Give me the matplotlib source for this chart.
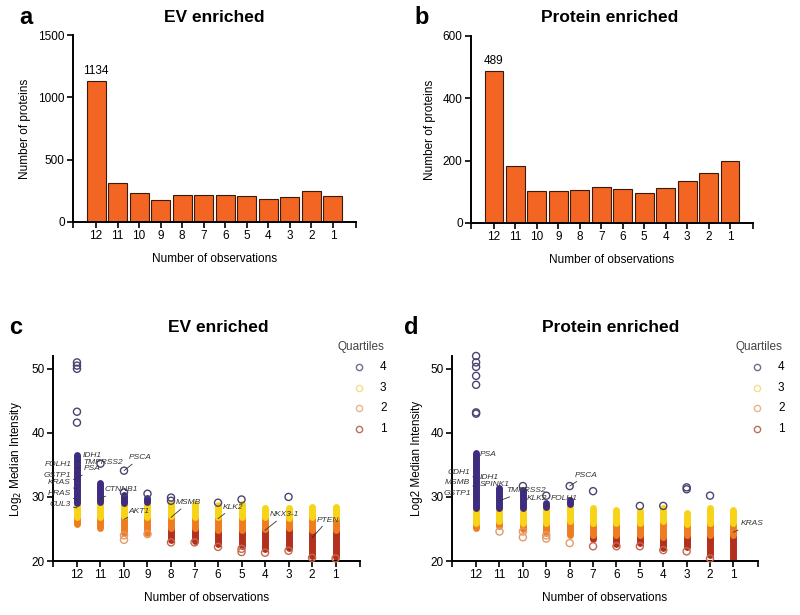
import numpy as np
import matplotlib.pyplot as plt
from matplotlib.lines import Line2D

plt.rcParams['font.family'] = ['Liberation Sans', 'DejaVu Sans']

# ---------------------------------------------------------------------------
# data
# ---------------------------------------------------------------------------
observations = [12, 11, 10, 9, 8, 7, 6, 5, 4, 3, 2, 1]

ev_counts = [1134, 313, 230, 176, 214, 214, 214, 208, 187, 198, 251, 208]
prot_counts = [489, 182, 102, 103, 105, 117, 108, 95, 111, 136, 160, 200]

# dense stacks of points per column, (low, high) per quartile, None = empty
ev_q4 = [(29.1, 36.6), (29.2, 32.2), (29.1, 30.3), (29.2, 29.9), None, None,
         None, None, None, None, None, None]
ev_q3 = [(26.8, 29.1), (26.8, 29.2), (27.0, 29.1), (26.8, 29.2), (27.0, 29.0),
         (26.9, 28.9), (26.8, 28.8), (26.9, 28.9), (26.8, 28.3), (26.7, 28.3),
         (26.8, 28.5), (26.8, 28.5)]
ev_q2 = [(25.7, 26.8), (25.1, 26.8), (24.4, 27.0), (24.4, 26.8), (25.1, 27.0),
         (25.1, 26.9), (24.9, 26.8), (24.9, 26.9), (25.0, 26.8), (25.1, 26.7),
         (24.8, 26.8), (24.9, 26.8)]
ev_q1 = [None, None, None, None, (23.3, 25.1), (23.2, 25.1), (22.6, 24.9),
         (22.4, 24.9), (21.9, 25.0), (22.0, 25.1), (20.8, 24.8), (20.6, 24.9)]

# isolated points: (number of observations, value)
ev_q4_pts = [(12, 51.0), (12, 50.5), (12, 50.0), (12, 43.3), (12, 41.6),
             (11, 35.2), (10, 34.1), (10, 30.7), (9, 30.5), (8, 29.9),
             (8, 29.4), (6, 29.1), (5, 29.6), (3, 30.0)]
ev_q2_pts = [(10, 24.0), (10, 23.3), (9, 24.2)]
ev_q1_pts = [(8, 22.9), (7, 22.9), (6, 22.2), (5, 21.9), (5, 21.4), (4, 21.3),
             (3, 21.6), (2, 20.5), (1, 20.4)]

prot_q4 = [(28.2, 36.8), (28.3, 31.4), (28.3, 31.1), (28.4, 29.0), (28.9, 29.5),
           None, None, None, None, None, None, None]
prot_q3 = [(25.9, 28.2), (26.2, 28.3), (25.9, 28.3), (26.0, 28.3), (26.2, 28.9),
           (25.9, 28.3), (25.9, 28.0), (25.9, 27.8), (26.2, 28.2), (25.8, 27.5),
           (25.9, 28.2), (26.0, 28.0)]
prot_q2 = [(25.1, 25.9), (25.4, 26.2), (25.0, 25.9), (24.3, 26.0), (24.0, 26.2),
           (24.1, 25.9), (24.1, 25.9), (24.1, 25.9), (23.8, 26.2), (24.1, 25.8),
           (24.1, 25.9), (24.1, 26.0)]
prot_q1 = [None, None, None, None, None, (23.5, 24.1), (22.7, 24.1),
           (22.8, 24.1), (22.0, 23.8), (22.2, 24.1), (20.9, 24.1), (20.1, 24.1)]

prot_q4_pts = [(12, 52.0), (12, 51.0), (12, 50.3), (12, 48.9), (12, 47.5),
               (12, 43.2), (12, 43.0), (10, 31.7), (9, 30.2), (8, 31.7),
               (7, 30.9), (5, 28.6), (4, 28.6), (3, 31.5), (3, 31.2), (2, 30.2)]
prot_q2_pts = [(11, 24.6), (10, 24.6), (10, 23.7), (9, 24.0), (9, 23.5), (8, 22.8)]
prot_q1_pts = [(7, 22.3), (6, 22.3), (5, 22.3), (4, 21.7), (3, 21.5), (2, 20.4)]

# gene labels: name, target (obs, value), text (x offset, value), side
ev_genes = [("IDH1", (12, 35.5), (0.26, 36.4), "left"),
            ("TMPRSS2", (12, 34.5), (0.26, 35.3), "left"),
            ("PSA", (12, 32.9), (0.28, 34.4), "left"),
            ("FOLH1", (12, 34.4), (-0.22, 35.0), "right"),
            ("GSTP1", (12, 32.6), (-0.27, 33.4), "right"),
            ("KRAS", (12, 31.2), (-0.27, 32.2), "right"),
            ("HRAS", (12, 29.6), (-0.27, 30.5), "right"),
            ("CUL3", (12, 28.3), (-0.27, 28.75), "right"),
            ("CTNNB1", (11, 29.8), (1.19, 31.1), "left"),
            ("PSCA", (10, 34.1), (2.2, 36.1), "left"),
            ("AKT1", (10, 26.5), (2.2, 27.8), "left"),
            ("MSMB", (8, 26.8), (4.2, 29.1), "left"),
            ("KLK2", (6, 26.6), (6.2, 28.4), "left"),
            ("NKX3-1", (4, 24.8), (8.2, 27.2), "left"),
            ("PTEN", (2, 23.6), (10.2, 26.4), "left")]
prot_genes = [("PSA", (12, 35.8), (0.17, 36.6), "left"),
              ("CDH1", (12, 33.0), (-0.26, 33.8), "right"),
              ("IDH1", (12, 32.4), (0.17, 33.1), "left"),
              ("MSMB", (12, 31.6), (-0.26, 32.2), "right"),
              ("SPINK1", (12, 31.0), (0.17, 32.0), "left"),
              ("GSTP1", (12, 29.8), (-0.22, 30.5), "right"),
              ("TMPRSS2", (11, 29.4), (1.28, 31.0), "left"),
              ("KLK2", (10, 28.6), (2.18, 29.7), "left"),
              ("FOLH1", (9, 28.6), (3.2, 29.7), "left"),
              ("PSCA", (8, 31.7), (4.23, 33.4), "left"),
              ("KRAS", (1, 24.5), (11.3, 25.8), "left")]

# ---------------------------------------------------------------------------
# style
# ---------------------------------------------------------------------------
BAR_COLOR = "#f26522"
Q_COLORS = {4: "#3d2c7f", 3: "#f7d418", 2: "#ee7d22", 1: "#b3301f"}
PT_COLORS = {4: "#4a4470", 2: "#e59a6a", 1: "#c4684c"}
LEG_COLORS = {4: "#6d6d8c", 3: "#f3df8e", 2: "#e8b48a", 1: "#b87058"}
FS = 8.5

fig = plt.figure(figsize=(8, 6.15), dpi=100)

x = np.arange(len(observations))


def pos(n):
    return observations.index(n)


def style_axes(ax, xlim):
    for s in ("top", "right"):
        ax.spines[s].set_visible(False)
    for s in ("left", "bottom"):
        ax.spines[s].set_linewidth(1.4)
    ax.set_xlim(*xlim)
    ax.set_xticks(x)
    ax.set_xticklabels([str(n) for n in observations], fontsize=FS)
    ax.set_xticks(list(xlim), minor=True)
    ax.tick_params(axis="both", which="both", direction="out", length=4,
                   width=1.2, labelsize=FS, pad=2)
    ax.set_xlabel("Number of observations", fontsize=FS, labelpad=8)


def bar_panel(rect, counts, ylim, yticks, xlim, title, letter, lx, tx):
    ax = fig.add_axes(rect)
    ax.bar(x, counts, width=0.88, color=BAR_COLOR, edgecolor="#3a1a0a",
           linewidth=0.8)
    ax.set_ylim(*ylim)
    ax.set_yticks(yticks)
    style_axes(ax, xlim)
    ax.set_ylabel("Number of proteins", fontsize=FS, labelpad=5)
    ax.text(x[0], counts[0] + ylim[1] * 0.02, str(counts[0]), ha="center",
            va="bottom", fontsize=FS)
    fig.text(tx, 1 - 17 / 615, title, ha="center", va="center",
             fontsize=12.5, fontweight="bold")
    fig.text(lx, 1 - 17 / 615, letter, ha="left", va="center",
             fontsize=17, fontweight="bold")
    return ax


def scatter_panel(rect, bands, pts, genes, xlim, title, letter, lx, tx,
                  ylabel, leg_x):
    ax = fig.add_axes(rect)
    for q in (1, 2, 3, 4):
        for xi, b in zip(x, bands[q]):
            if b is None:
                continue
            ax.plot([xi, xi], b, color=Q_COLORS[q], lw=5,
                    solid_capstyle="round", zorder=2 + q * 0.1)
    for q, plist in pts.items():
        px = [pos(n) for n, _ in plist]
        py = [v for _, v in plist]
        ax.scatter(px, py, s=26, facecolors="none", edgecolors=PT_COLORS[q],
                   linewidths=1.0, zorder=4, clip_on=False)
    for name, (tn, tv), (dx, ty), side in genes:
        ax.annotate(name, xy=(pos(tn), tv), xytext=(dx, ty),
                    ha="left" if side == "left" else "right", va="center",
                    fontsize=6, style="italic", color="#333333",
                    arrowprops=dict(arrowstyle="-", lw=0.6, color="#333333",
                                    shrinkA=0, shrinkB=0), zorder=5)
    ax.set_ylim(20, 52)
    ax.set_yticks([20, 30, 40, 50])
    style_axes(ax, xlim)
    ax.set_ylabel(ylabel, fontsize=FS, labelpad=5)
    fig.text(tx, 1 - 328 / 615, title, ha="center", va="center",
             fontsize=12.5, fontweight="bold")
    fig.text(lx, 1 - 328 / 615, letter, ha="left", va="center",
             fontsize=17, fontweight="bold")
    # legend
    fig.text(leg_x / 800, 1 - 347 / 615, "Quartiles", ha="center",
             va="center", fontsize=FS, color="#444444")
    for i, q in enumerate((4, 3, 2, 1)):
        yy = 1 - (367 + i * 20.7) / 615
        fig.add_artist(Line2D([(leg_x - 2) / 800], [yy], marker="o", ms=4.5,
                              mfc="none", mec=LEG_COLORS[q], mew=1.0,
                              linestyle="none"))
        fig.text((leg_x + 19) / 800, yy, str(q), ha="left", va="center",
                 fontsize=FS)
    return ax


bar_panel([73 / 800, 1 - 222 / 615, 283 / 800, 187 / 615], ev_counts,
          (0, 1500), [0, 500, 1000, 1500], (-1.07, 12.07),
          "EV enriched", "a", 19 / 800, 214 / 800)
bar_panel([471 / 800, 1 - 223 / 615, 282 / 800, 187 / 615], prot_counts,
          (0, 600), [0, 200, 400, 600], (-1.07, 12.07),
          "Protein enriched", "b", 414 / 800, 610 / 800)

scatter_panel([53 / 800, 1 - 561 / 615, 307 / 800, 205 / 615],
              {4: ev_q4, 3: ev_q3, 2: ev_q2, 1: ev_q1},
              {4: ev_q4_pts, 2: ev_q2_pts, 1: ev_q1_pts}, ev_genes,
              (-1.02, 12.04), "EV enriched", "c", 9 / 800, 218 / 800,
              "Log$_2$ Median Intensity", 361)
scatter_panel([452 / 800, 1 - 561 / 615, 306 / 800, 205 / 615],
              {4: prot_q4, 3: prot_q3, 2: prot_q2, 1: prot_q1},
              {4: prot_q4_pts, 2: prot_q2_pts, 1: prot_q1_pts}, prot_genes,
              (-1.03, 12.05), "Protein enriched", "d", 404 / 800, 611 / 800,
              "Log2 Median Intensity", 759)

fig.savefig("out.png", dpi=100)
